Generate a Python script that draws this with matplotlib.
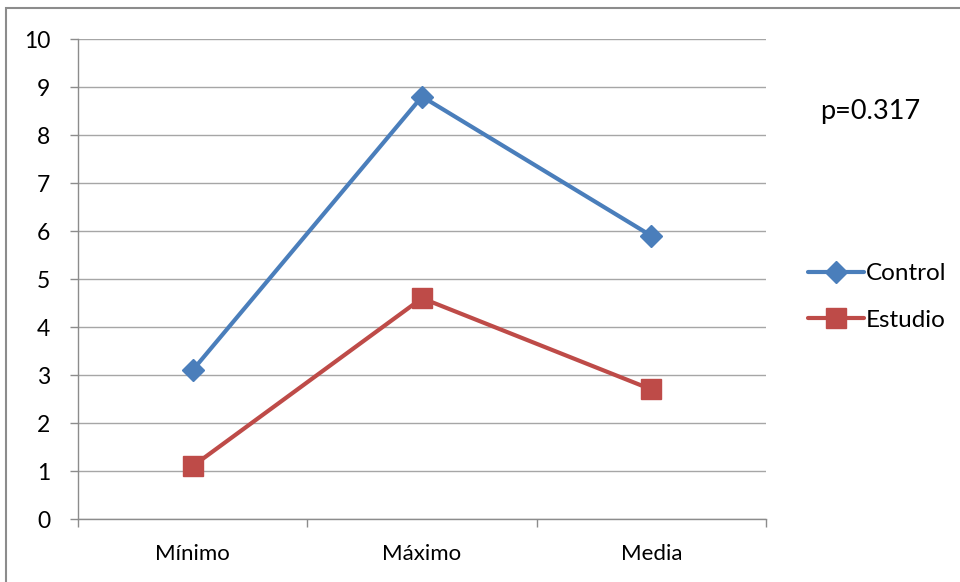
import matplotlib
matplotlib.use("Agg")
import matplotlib.pyplot as plt
from matplotlib.patches import Rectangle

categories = ["Mínimo", "Máximo", "Media"]
control = [3.1, 8.8, 5.9]
estudio = [1.1, 4.6, 2.7]
yticks = [0, 1, 2, 3, 4, 5, 6, 7, 8, 9, 10]
p_text = "p=0.317"

plt.rcParams['font.family'] = ['Lato', 'DejaVu Sans']

W, H = 960, 582
fig = plt.figure(figsize=(9.6, 5.82), dpi=100)
fig.patch.set_facecolor('white')

# chart frame
fig.patches.append(Rectangle((6 / W, -0.1), 1.2, 1 - 8 / H + 0.1, transform=fig.transFigure,
                             fill=False, edgecolor='#8c8c8c', linewidth=1.5))

ax = fig.add_axes([78 / W, 1 - 519 / H, (766 - 78) / W, (519 - 39) / H])
x = list(range(len(categories)))
blue = '#4A7EBB'
red = '#BE4B48'
ax.plot(x, control, color=blue, lw=3, marker='D', markersize=11, label='Control',
        solid_capstyle='round')
ax.plot(x, estudio, color=red, lw=3, marker='s', markersize=14, label='Estudio',
        solid_capstyle='round')

ax.set_xlim(-0.5, len(categories) - 0.5)
ax.set_ylim(0, 10)
ax.set_yticks(yticks)
ax.set_yticklabels([str(v) for v in yticks], fontsize=16.5)
ax.set_xticks(x)
ax.set_xticklabels(categories, fontsize=16)
ax.set_xticks([-0.5, 0.5, 1.5, 2.5], minor=True)
ax.tick_params(axis='x', which='major', length=0, pad=18)
ax.tick_params(axis='x', which='minor', length=6, color='#8c8c8c', width=1)
ax.tick_params(axis='y', length=6, color='#8c8c8c', width=1, pad=14)
ax.grid(axis='y', color='#a6a6a6', lw=1)
ax.set_axisbelow(True)
for s in ['top', 'right']:
    ax.spines[s].set_visible(False)
for s in ['left', 'bottom']:
    ax.spines[s].set_color('#8c8c8c')
    ax.spines[s].set_linewidth(1)

fig.text(870 / W, 1 - 112 / H, p_text, fontsize=19.5, ha='center', va='center')

leg = ax.legend(loc='center left', bbox_to_anchor=(786 / W, 1 - 297 / H),
                bbox_transform=fig.transFigure, frameon=False, fontsize=17.5,
                handlelength=2.3, handletextpad=0.1, labelspacing=1.05)

fig.savefig("out.png", dpi=100)
